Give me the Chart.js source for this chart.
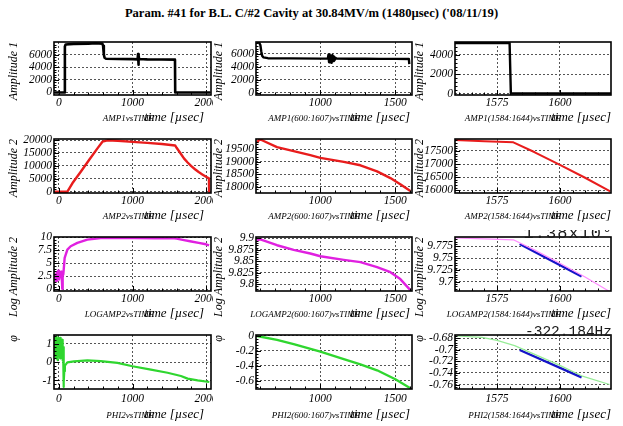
<!DOCTYPE html>
<html>
<head>
<meta charset="utf-8">
<script src="https://cdn.jsdelivr.net/npm/chart.js@4.4.1/dist/chart.umd.min.js"></script>
<style>
  html, body { margin: 0; padding: 0; background: #fff; }
  #page { position: relative; width: 623px; height: 426px; overflow: hidden; background: #fff; }
  #title { position: absolute; left: 0; top: 6px; width: 623px; text-align: center;
           font: bold 12.6px "Liberation Serif", "DejaVu Serif", serif; color: #000; white-space: nowrap; }
  canvas { position: absolute; }
</style>
</head>
<body>
<div id="page">
  <div id="title">Param. #41 for B.L. C/#2 Cavity at 30.84MV/m (1480µsec) ('08/11/19)</div>
</div>
<script>
const SERIF = '"Liberation Serif", "DejaVu Serif", serif';
const MONO = '"Liberation Mono", "DejaVu Sans Mono", monospace';

// ---- tick values ----
const X_FULL = [0, 1000, 2000];
const X_MID = [1000, 1500];
const X_END = [1575, 1600];

const Y_AMP1 = [0, 2000, 4000, 6000];
const Y_AMP1_END = [0, 2000, 4000];
const Y_AMP2 = [0, 5000, 10000, 15000, 20000];
const Y_AMP2_MID = [18000, 18500, 19000, 19500];
const Y_AMP2_END = [16000, 16500, 17000, 17500];
const Y_LOG = [0, 2.5, 5, 7.5, 10];
const Y_LOG_MID = [9.8, 9.825, 9.85, 9.875, 9.9];
const Y_LOG_END = [9.7, 9.725, 9.75, 9.775];
const Y_PHI = [-1, 0, 1];
const Y_PHI_MID = [-0.6, -0.4, -0.2, 0];
const Y_PHI_END = [-0.76, -0.74, -0.72, -0.7, -0.68];

// ---- Amplitude 1 (drive) ----
const T_AMP1 = [-60, 75, 80, 90, 200, 400, 500, 590, 600, 610, 620, 640, 800, 1000, 1070, 1075, 1080, 1085, 1090, 1200, 1400, 1578, 1581, 2060];
const AMP1 = [0, 0, 7300, 7600, 7700, 7750, 7800, 7750, 7400, 6000, 5500, 5350, 5300, 5280, 5250, 6100, 4400, 5900, 5300, 5250, 5230, 5200, 0, 0];

const T_AMP1_MID = [578, 592, 600, 606, 612, 620, 650, 800, 1000, 1050, 1054, 1058, 1062, 1066, 1070, 1075, 1080, 1085, 1090, 1095, 1100, 1110, 1200, 1300, 1400, 1500, 1590, 1593];
const AMP1_MID = [7750, 7700, 7350, 6400, 5700, 5450, 5320, 5290, 5260, 5250, 5850, 4700, 5900, 4800, 5700, 4600, 5800, 4900, 5600, 5000, 5400, 5250, 5240, 5230, 5220, 5210, 5200, 4400];

const T_AMP1_END = [1558, 1580, 1580.5, 1621];
const AMP1_END = [5230, 5230, 0, 0];

// ---- Amplitude 2 (cavity pick-up) ----
const T_AMP2 = [-60, 114, 182, 296, 409, 523, 591, 660, 800, 1000, 1200, 1400, 1580, 1600, 1650, 1700, 1750, 1800, 1850, 1900, 1950, 2000, 2040, 2042, 2060];
const AMP2 = [0, 0, 3250, 7740, 12260, 16780, 19350, 19900, 19700, 19300, 18900, 18450, 17900, 17000, 15000, 12900, 11300, 9900, 8700, 7600, 6700, 5800, 5200, 0, 0];

const T_AMP2_MID = [578, 590, 600, 622, 711, 822, 933, 1000, 1156, 1267, 1378, 1467, 1533, 1600];
const AMP2_MID = [19770, 19880, 19900, 19840, 19595, 19432, 19268, 19160, 18996, 18860, 18614, 18342, 18097, 17824];

const T_AMP2_END = [1558, 1570, 1581.5, 1590, 1600, 1610, 1620];
const AMP2_END = [17915, 17870, 17830, 17450, 16971, 16480, 15963];

// ---- log of Amplitude 2 ----
const T_LOG = [-60, -50, -40, -30, -20, -10, 0, 10, 20, 30, 40, 45, 50, 59, 77, 114, 159, 250, 386, 568, 800, 1023, 1300, 1568, 1600, 1700, 1800, 1900, 2000, 2042];
const LOG = [2.1, 2.8, 1.6, 3.3, 2.2, 3.6, 1.9, 3.0, 2.4, 3.4, 1.5, 0.1, 2.6, 2.9, 6.05, 7.64, 8.28, 8.92, 9.55, 9.87, 9.88, 9.87, 9.83, 9.80, 9.74, 9.46, 9.20, 8.93, 8.66, 8.45];

const T_LOG_MID = [578, 600, 711, 822, 933, 1000, 1156, 1267, 1378, 1467, 1533, 1600];
const LOG_MID = [9.896, 9.898, 9.885, 9.875, 9.867, 9.861, 9.853, 9.848, 9.837, 9.826, 9.811, 9.787];

const T_LOG_END = [1558, 1570, 1581.5, 1590, 1600, 1610, 1620];
const LOG_END = [9.793, 9.791, 9.789, 9.767, 9.739, 9.710, 9.678];

// straight-line fit of the decay
const T_FIT = [1584, 1608.6];
const LOG_FIT = [9.780, 9.711];

// ---- phase ----
const T_PHI = [-60, -55, -50, -45, -40, -35, -30, -25, -20, -15, -10, -5, 0, 5, 10, 15, 20, 25, 30, 35, 40, 45, 50, 55, 60, 64, 68, 72, 80, 91, 114, 205, 386, 568, 795, 1000, 1250, 1477, 1659, 1750, 1886, 2045];
const PHI = [0.6, 1.3, 0.3, 1.1, 0.2, 1.4, 0.5, 0.9, 1.2, 0.1, 1.0, 0.4, 1.3, 0.6, 1.1, 0.2, 0.9, 1.3, 0.4, 1.0, 0.7, 1.2, 0.1, 0.8, -0.3, -1.35, -1.1, -0.5, -0.2, -0.14, -0.02, 0.035, 0.09, 0.05, -0.05, -0.23, -0.41, -0.58, -0.76, -0.9, -0.99, -1.08];

const T_PHI_MID = [578, 711, 822, 1000, 1156, 1267, 1378, 1500, 1600];
const PHI_MID = [0.0, -0.053, -0.11, -0.21, -0.31, -0.38, -0.46, -0.58, -0.70];

const T_PHI_END = [1559, 1569, 1575, 1582, 1600, 1608.6, 1619.7];
const PHI_END = [-0.6765, -0.679, -0.684, -0.693, -0.727, -0.745, -0.760];

const PHI_FIT = [-0.7006, -0.7476];

// ---- grid of pads ----
const COLS = [
  { left: 0,   width: 213, box: [54, 211],  yTitleX: 14, inset: 7 },
  { left: 208, width: 207, box: [256, 412], yTitleX: 219, inset: 2 },
  { left: 410, width: 213, box: [455, 611], yTitleX: 420, inset: 0 }
];
const ROWS = [
  { top: 22,  height: 104, box: [42, 95],   lab: 1, drop: 26 },
  { top: 120, height: 106, box: [139, 193], lab: 1, drop: 26 },
  { top: 218, height: 106, box: [237, 291], lab: 1, drop: 26 },
  { top: 316, height: 110, box: [335, 389], lab: 3, drop: 29 }
];

const BLACK = '#000000', RED = '#e81c1c', MAG = '#e020e0', GREEN = '#2fd62f', BLUE = '#1414c8';

const PANELS = [
  { name: 'AMP1vsTIME', yTitle: 'Amplitude 1', x: [-68, 2068], xt: X_FULL, y: [-400, 8000], yt: Y_AMP1,
    series: [[T_AMP1, AMP1, BLACK, 2.6]] },
  { name: 'AMP1(600:1607)vsTIME', yTitle: 'Amplitude 1', x: [571, 1611], xt: X_MID, y: [-320, 7800], yt: Y_AMP1,
    series: [[T_AMP1_MID, AMP1_MID, BLACK, 2.4]] },
  { name: 'AMP1(1584:1644)vsTIME', yTitle: 'Amplitude 1', x: [1558.3, 1620.3], xt: X_END, y: [-150, 5340], yt: Y_AMP1_END,
    series: [[T_AMP1_END, AMP1_END, BLACK, 2.4]] },

  { name: 'AMP2vsTIME', yTitle: 'Amplitude 2', x: [-68, 2068], xt: X_FULL, y: [-500, 20400], yt: Y_AMP2,
    series: [[T_AMP2, AMP2, RED, 2.4]] },
  { name: 'AMP2(600:1607)vsTIME', yTitle: 'Amplitude 2', x: [571, 1611], xt: X_MID, y: [17740, 19920], yt: Y_AMP2_MID,
    series: [[T_AMP2_MID, AMP2_MID, RED, 2.4]] },
  { name: 'AMP2(1584:1644)vsTIME', yTitle: 'Amplitude 2', x: [1558.3, 1620.3], xt: X_END, y: [15900, 17955], yt: Y_AMP2_END,
    series: [[T_AMP2_END, AMP2_END, RED, 2]] },

  { name: 'LOGAMP2vsTIME', yTitle: 'Log Amplitude 2', x: [-68, 2068], xt: X_FULL, y: [-0.32, 10.06], yt: Y_LOG,
    series: [[T_LOG, LOG, MAG, 2.4]] },
  { name: 'LOGAMP2(600:1607)vsTIME', yTitle: 'Log Amplitude 2', x: [571, 1611], xt: X_MID, y: [9.785, 9.903], yt: Y_LOG_MID,
    series: [[T_LOG_MID, LOG_MID, MAG, 2.4]] },
  { name: 'LOGAMP2(1584:1644)vsTIME', yTitle: 'Log Amplitude 2', x: [1558.3, 1620.3], xt: X_END, y: [9.680, 9.795], yt: Y_LOG_END,
    series: [[T_LOG_END, LOG_END, '#ff8cff', 1.2], [T_FIT, LOG_FIT, BLUE, 2.4]],
    note: { text: '1.38x10', sup: '6', size: 17, spacing: 1, right: -9, clip: 7 } },

  { name: 'PHI2vsTIME', yTitle: 'φ', x: [-68, 2068], xt: X_FULL, y: [-1.46, 1.46], yt: Y_PHI,
    series: [[T_PHI, PHI, GREEN, 2.2]] },
  { name: 'PHI2(600:1607)vsTIME', yTitle: 'φ', x: [571, 1611], xt: X_MID, y: [-0.711, 0.013], yt: Y_PHI_MID,
    series: [[T_PHI_MID, PHI_MID, GREEN, 2.4]] },
  { name: 'PHI2(1584:1644)vsTIME', yTitle: 'φ', x: [1558.3, 1620.3], xt: X_END, y: [-0.7677, -0.6748], yt: Y_PHI_END,
    series: [[T_PHI_END, PHI_END, '#96ec96', 1.2], [T_FIT, PHI_FIT, BLUE, 2.4]],
    note: { text: '-322.184Hz', size: 14.5, spacing: 0, right: 1, clip: 9 } }
];

// sub-divisions between labelled ticks, drawn inside the frame
function subTicks(scale, n) {
  const major = scale.ticks.map(t => t.value);
  const step = (major[1] - major[0]) / n;
  const out = [];
  const k0 = Math.ceil((scale.min - major[0]) / step - 1e-9);
  const k1 = Math.floor((scale.max - major[0]) / step + 1e-9);
  for (let k = k0; k <= k1; k++) out.push([major[0] + k * step, k % n === 0]);
  return out;
}

function makeDecor(p, c, r) {
  return {
    id: 'decor',
    afterDatasetsDraw(chart) {
      const { ctx, chartArea: a } = chart;
      const xs = chart.scales.x, ys = chart.scales.y;
      ctx.save();
      ctx.strokeStyle = '#000';
      ctx.lineWidth = 1;
      ctx.beginPath();
      subTicks(xs, 5).forEach(([v, major]) => {
        const px = Math.round(xs.getPixelForValue(v)) + 0.5;
        if (px <= a.left + 1 || px >= a.right - 1) return;
        ctx.moveTo(px, a.bottom);
        ctx.lineTo(px, a.bottom - (major ? 5 : 2.5));
      });
      subTicks(ys, 5).forEach(([v, major]) => {
        const py = Math.round(ys.getPixelForValue(v)) + 0.5;
        if (py <= a.top + 1 || py >= a.bottom - 1) return;
        ctx.moveTo(a.left, py);
        ctx.lineTo(a.left + (major ? 5 : 2.5), py);
      });
      ctx.stroke();
      ctx.lineWidth = 1.6;
      ctx.strokeRect(a.left, a.top, a.right - a.left, a.bottom - a.top);
      ctx.restore();
    },
    afterDraw(chart) {
      const { ctx, chartArea: a } = chart;
      ctx.save();
      ctx.fillStyle = '#000';

      // vertical axis title, top-aligned
      ctx.save();
      ctx.translate(c.yTitleX - c.left, a.top);
      ctx.rotate(-Math.PI / 2);
      ctx.textAlign = 'right';
      ctx.textBaseline = 'middle';
      ctx.font = 'italic 12px ' + SERIF;
      ctx.fillText(p.yTitle, 0, 0);
      ctx.restore();

      // graph name and time-axis title, right-aligned under the frame
      const xr = a.right - c.inset, yb = a.bottom + r.drop;
      ctx.textAlign = 'right';
      ctx.textBaseline = 'alphabetic';
      ctx.font = 'italic 13px ' + SERIF;
      const w = ctx.measureText('time [µsec]').width;
      ctx.font = 'italic 9px ' + SERIF;
      ctx.fillText(p.name, xr - w + 10, yb);
      ctx.font = 'italic 13px ' + SERIF;
      ctx.fillText('time [µsec]', xr, yb);

      // fit result printed above the frame
      if (p.note) {
        const n = p.note;
        ctx.beginPath();
        ctx.rect(0, a.top - n.clip, chart.width, n.clip + 3);
        ctx.clip();
        ctx.fillStyle = '#1a1a1a';
        ctx.font = n.size + 'px ' + MONO;
        ctx.letterSpacing = n.spacing + 'px';
        ctx.fillText(n.text, a.right + n.right, a.top + 1);
        if (n.sup) {
          ctx.textAlign = 'left';
          ctx.font = '10px ' + MONO;
          ctx.letterSpacing = '0px';
          ctx.fillText(n.sup, a.right + n.right + 2, a.top - 5);
        }
      }
      ctx.restore();
    }
  };
}

const page = document.getElementById('page');
const tickFont = { family: SERIF, size: 11.5, style: 'italic' };

PANELS.forEach((p, i) => {
  const c = COLS[i % 3], r = ROWS[Math.floor(i / 3)];
  const cv = document.createElement('canvas');
  cv.width = c.width;
  cv.height = r.height;
  cv.style.left = c.left + 'px';
  cv.style.top = r.top + 'px';
  page.appendChild(cv);

  new Chart(cv, {
    type: 'line',
    data: {
      datasets: p.series.map(([t, v, color, w]) => ({
        data: t.map((tt, k) => ({ x: tt, y: v[k] })),
        borderColor: color,
        borderWidth: w,
        pointRadius: 0,
        tension: 0,
        fill: false,
        borderJoinStyle: 'round'
      }))
    },
    options: {
      responsive: false,
      animation: false,
      devicePixelRatio: 1,
      events: [],
      layout: { padding: { top: r.box[0] - r.top, right: c.left + c.width - c.box[1], bottom: 0, left: 0 } },
      plugins: { legend: { display: false }, tooltip: { enabled: false }, title: { display: false } },
      scales: {
        x: {
          type: 'linear', bounds: 'data', min: p.x[0], max: p.x[1],
          afterBuildTicks: s => { s.ticks = p.xt.map(v => ({ value: v })); },
          afterFit: s => { s.height = r.top + r.height - r.box[1]; s.paddingLeft = 0; s.paddingRight = 0; },
          grid: { drawTicks: false, color: '#555', lineWidth: 1 },
          border: { display: false, dash: [2, 2] },
          ticks: { autoSkip: false, maxRotation: 0, padding: r.lab, color: '#000', font: tickFont, callback: v => String(v) }
        },
        y: {
          type: 'linear', bounds: 'data', min: p.y[0], max: p.y[1],
          afterBuildTicks: s => { s.ticks = p.yt.map(v => ({ value: v })); },
          afterFit: s => { s.width = c.box[0] - c.left; s.paddingTop = 0; s.paddingBottom = 0; },
          grid: { drawTicks: false, color: '#555', lineWidth: 1 },
          border: { display: false, dash: [2, 2] },
          ticks: { autoSkip: false, padding: 2, color: '#000', font: tickFont, callback: v => String(v) }
        }
      }
    },
    plugins: [makeDecor(p, c, r)]
  });
});
</script>
</body>
</html>
